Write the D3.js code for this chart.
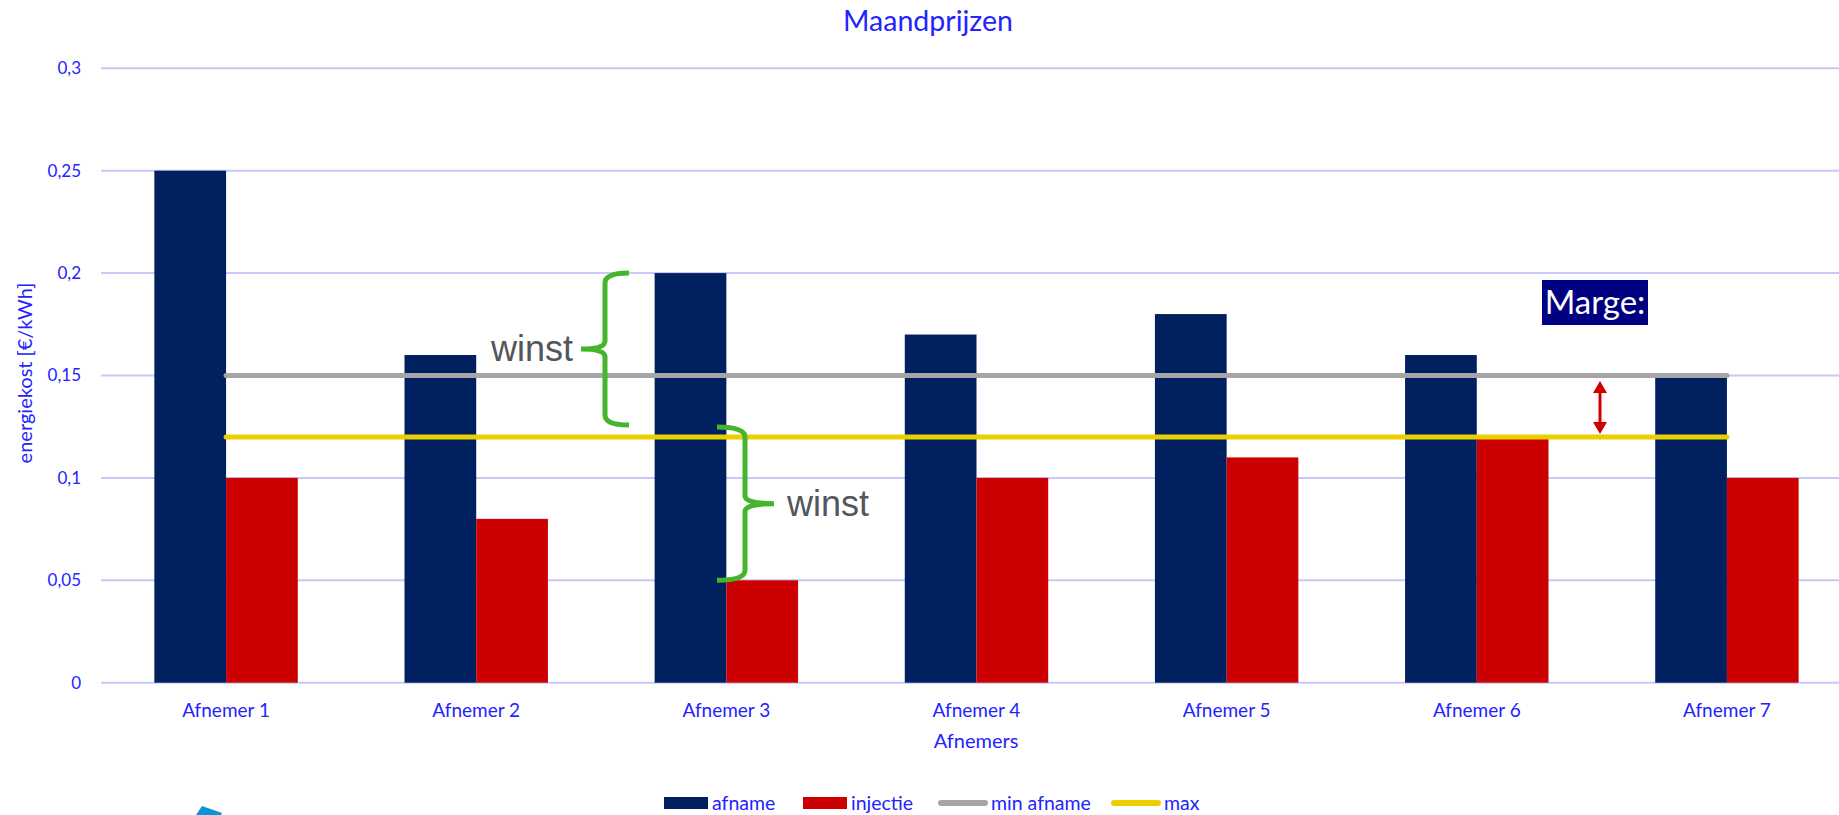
<!DOCTYPE html>
<html lang="nl">
<head>
<meta charset="UTF-8" />
<title>Maandprijzen</title>
<script src="https://cdn.jsdelivr.net/npm/d3@7"></script>
<style>
body{margin:0;background:#fff}
svg{display:block;font-family:Lato,"Noto Sans",sans-serif}
</style>
</head>
<body>
<svg id="chart" width="1839" height="815"></svg>
<script>
/* ===== data ===== */
const categories=['Afnemer 1','Afnemer 2','Afnemer 3','Afnemer 4','Afnemer 5','Afnemer 6','Afnemer 7'];
const afname  =[0.25,0.16,0.20,0.17,0.18,0.16,0.15];
const injectie=[0.10,0.08,0.05,0.10,0.11,0.12,0.10];
const minAfname=[0.15,0.15,0.15,0.15,0.15,0.15,0.15];
const maxLine  =[0.12,0.12,0.12,0.12,0.12,0.12,0.12];
const yTicks=[0,0.05,0.1,0.15,0.2,0.25,0.3];
const yTickLabels=['0','0,05','0,1','0,15','0,2','0,25','0,3'];
const seriesNames=['afname','injectie','min afname','max'];

/* ===== setup ===== */
const BLUE='#2323ff',NAVY='#002060',RED='#cc0000',GREY='#a5a5a5',YEL='#ebcf00',GREEN='#46b52e';
const svg=d3.select('#chart');
const x=d3.scaleBand().domain(categories).range([101,1852]).paddingInner(0.4266).paddingOuter(0.2133);
const xs=d3.scaleBand().domain(['afname','injectie']).range([0,x.bandwidth()]);
const y=d3.scaleLinear().domain([0,0.3]).range([682.7,68.3]);
const cx=c=>x(c)+x.bandwidth()/2;

/* grid */
svg.append('g').selectAll('line').data(yTicks).join('line')
  .attr('x1',101).attr('x2',1839).attr('y1',d=>y(d)).attr('y2',d=>y(d))
  .attr('stroke','#c8c8fa').attr('stroke-width',2);
svg.append('g').selectAll('text').data(yTicks).join('text')
  .attr('x',81).attr('y',d=>y(d)).attr('dy','0.35em').attr('text-anchor','end')
  .attr('fill',BLUE).attr('font-size',17).text((d,i)=>yTickLabels[i]);

/* bars */
const bars=svg.append('g');
bars.selectAll('.a').data(afname).join('rect').attr('class','a')
  .attr('x',(d,i)=>x(categories[i])+xs('afname')).attr('width',xs.bandwidth())
  .attr('y',d=>y(d)).attr('height',d=>y(0)-y(d)).attr('fill',NAVY);
bars.selectAll('.i').data(injectie).join('rect').attr('class','i')
  .attr('x',(d,i)=>x(categories[i])+xs('injectie')).attr('width',xs.bandwidth())
  .attr('y',d=>y(d)).attr('height',d=>y(0)-y(d)).attr('fill',RED);

/* lines */
const line=d3.line().x((d,i)=>cx(categories[i])).y(d=>y(d));
svg.append('path').datum(minAfname).attr('d',line).attr('fill','none')
  .attr('stroke',GREY).attr('stroke-width',5).attr('stroke-linecap','round');
svg.append('path').datum(maxLine).attr('d',line).attr('fill','none')
  .attr('stroke',YEL).attr('stroke-width',5).attr('stroke-linecap','round');

/* x labels + titles */
svg.append('g').selectAll('text').data(categories).join('text')
  .attr('x',d=>cx(d)).attr('y',717).attr('text-anchor','middle')
  .attr('fill',BLUE).attr('font-size',19).text(d=>d);
svg.append('text').attr('x',976).attr('y',748).attr('text-anchor','middle')
  .attr('fill',BLUE).attr('font-size',20).text('Afnemers');
svg.append('text').attr('x',928).attr('y',31).attr('text-anchor','middle')
  .attr('fill',BLUE).attr('font-size',28.5).text('Maandprijzen');
svg.append('text').attr('transform','translate(32,373) rotate(-90)').attr('text-anchor','middle')
  .attr('fill',BLUE).attr('font-size',20).text('energiekost [€/kWh]');

/* legend */
const lg=svg.append('g').attr('transform','translate(0,803)');
const legItems=[
  {name:seriesNames[0],x:664,type:'rect',color:NAVY},
  {name:seriesNames[1],x:803,type:'rect',color:RED},
  {name:seriesNames[2],x:938,type:'line',color:GREY},
  {name:seriesNames[3],x:1111,type:'line',color:YEL}];
legItems.forEach(d=>{
  if(d.type==='rect') lg.append('rect').attr('x',d.x).attr('y',-6).attr('width',44).attr('height',12).attr('fill',d.color);
  else lg.append('line').attr('x1',d.x+3).attr('x2',d.x+47).attr('y1',0).attr('y2',0)
        .attr('stroke',d.color).attr('stroke-width',6).attr('stroke-linecap','round');
  lg.append('text').attr('x',d.x+(d.type==='rect'?48:53)).attr('y',0).attr('dy','0.35em')
    .attr('fill',BLUE).attr('font-size',19.5).text(d.name);
});

/* annotations */
function brace(xe,xsp,xt,y0,y1){
  const ym=(y0+y1)/2;
  return `M${xe},${y0} Q${xsp},${y0} ${xsp},${y0+10} L${xsp},${ym-8} Q${xsp},${ym} ${xt},${ym}`+
         ` Q${xsp},${ym} ${xsp},${ym+8} L${xsp},${y1-10} Q${xsp},${y1} ${xe},${y1}`;
}
const ann=svg.append('g');
ann.append('path').attr('d',brace(629,605,581,y(0.2),425)).attr('fill','none')
  .attr('stroke',GREEN).attr('stroke-width',5);
ann.append('path').attr('d',brace(717,745,774,427,y(0.05))).attr('fill','none')
  .attr('stroke',GREEN).attr('stroke-width',5);
ann.append('text').attr('x',491).attr('y',361).attr('fill','#53575b')
  .attr('font-family','"Liberation Sans",Arial,sans-serif').attr('font-size',36).text('winst');
ann.append('text').attr('x',787).attr('y',516).attr('fill','#53575b')
  .attr('font-family','"Liberation Sans",Arial,sans-serif').attr('font-size',36).text('winst');

/* Marge box */
ann.append('rect').attr('x',1542).attr('y',280).attr('width',106).attr('height',45).attr('fill','#000080');
ann.append('text').attr('x',1595).attr('y',314).attr('text-anchor','middle').attr('fill','#fff')
  .attr('font-size',33).text('Marge:');

/* red double arrow */
ann.append('line').attr('x1',1600).attr('x2',1600).attr('y1',388).attr('y2',427)
  .attr('stroke','#d00000').attr('stroke-width',3);
ann.append('path').attr('d','M1600,381 L1593,393 L1607,393 Z M1600,434 L1593,422 L1607,422 Z').attr('fill','#d00000');

/* clipped blue shape at bottom left */
ann.append('path').attr('d','M196,815 L202,806 L222,813 L221,815 Z').attr('fill','#0b93d6');
</script>
</body>
</html>
